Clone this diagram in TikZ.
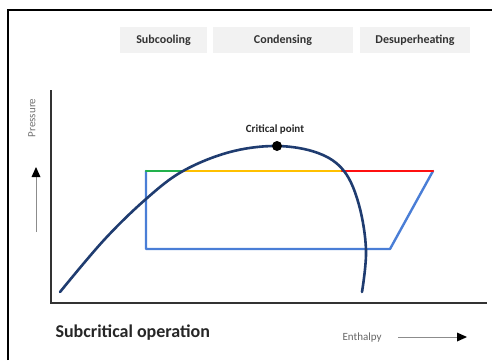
\documentclass[tikz,border=0pt]{standalone}
\usepackage{fontspec}
\setmainfont{Carlito}
\usetikzlibrary{arrows.meta}
\definecolor{hdr}{HTML}{F2F2F2}
\definecolor{dome}{HTML}{1F3C70}
\definecolor{cyc}{HTML}{4A7ED6}
\definecolor{grn}{HTML}{22B14C}
\definecolor{ylw}{HTML}{FFC000}
\definecolor{rd}{HTML}{FF1010}
\definecolor{axisc}{HTML}{333333}
\tikzset{
  hdrbox/.style={fill=hdr, draw=none, minimum height=26pt, inner sep=0pt, font=\fontsize{12}{13}\selectfont\bfseries, text=black!80},
  cycline/.style={line width=2.4pt, line cap=round, line join=round},
  axisline/.style={draw=axisc, line width=2pt},
  smallline/.style={draw=black!45, line width=0.9pt},
}
\begin{document}
\begin{tikzpicture}[x=1pt,y=-1pt]
\useasboundingbox (0,0) rectangle (492,360);
% frame
\draw[black, line width=1.5pt] (8,360) -- (8,10) -- (492,10);
% header boxes
\node[hdrbox, minimum width=87pt] (sub) at (163.5,40) {Subcooling};
\node[hdrbox, minimum width=140pt] (con) at (283,40) {Condensing};
\node[hdrbox, minimum width=110pt] (des) at (415,40) {Desuperheating};
% axes
\coordinate (ytop) at (51,90);
\coordinate (orig) at (51,303);
\coordinate (xend) at (487,303);
\draw[axisline] (ytop) -- (orig) -- (xend);
% axis labels
\node[rotate=90, text=black!55, font=\fontsize{11}{12}\selectfont] (pl) at (32,118) {Pressure};
\coordinate (pa1) at (36,232);
\coordinate (pa2) at (36,176);
\coordinate (pa3) at (36,167);
\draw[smallline] (pa1) -- (pa2);
\fill[black] (pa3) -- ++(-4.5,10) -- ++(9,0) -- cycle;
\node[anchor=west, font=\fontsize{18}{20}\selectfont\bfseries, text=black!85] (title) at (52,333) {Subcritical operation};
\node[anchor=west, text=black!60, font=\fontsize{11}{12}\selectfont] (el) at (339,338) {Enthalpy};
\coordinate (ea1) at (398,337);
\coordinate (ea2) at (458,337);
\coordinate (ea3) at (467,337);
\draw[smallline] (ea1) -- (ea2);
\fill[black] (ea3) -- ++(-10,-4.5) -- ++(0,9) -- cycle;
% cycle
\coordinate (A) at (146,171);
\coordinate (B) at (183,171);
\coordinate (C) at (342,171);
\coordinate (D) at (433,171);
\coordinate (E) at (390,249);
\coordinate (F) at (146,249);
\draw[cycline, cyc] (A) -- (F) -- (E) -- (D);
\draw[cycline, grn] (A) -- (B);
\draw[cycline, ylw] (B) -- (C);
\draw[cycline, rd] (C) -- (D);
% dome
\draw[dome, line width=2.6pt, line cap=round] plot[smooth, tension=0.6] coordinates
  {(60,292) (104,240) (146,199) (183,171) (230,152) (277,146) (318,153) (344,171) (359,205) (366,250) (362,292)};
% critical point
\fill[black] (277,146) circle (5pt) coordinate (cp);
\node[font=\fontsize{11}{12}\selectfont\bfseries, text=black!85] (cpl) at (275,129) {Critical point};
\end{tikzpicture}
\end{document}
